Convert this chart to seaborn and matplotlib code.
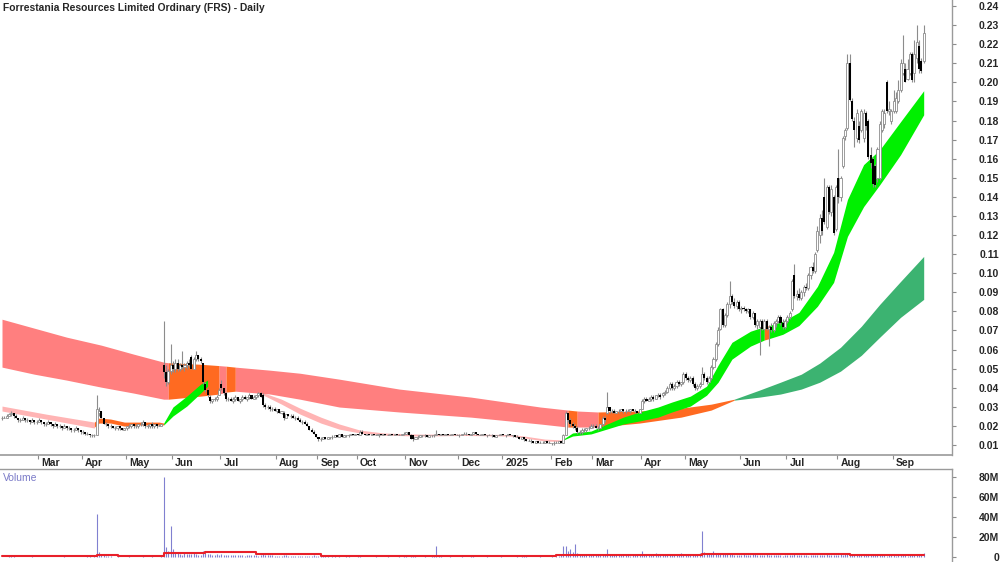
import numpy as np
import pandas as pd
import matplotlib
matplotlib.use('Agg')
import matplotlib.pyplot as plt
import seaborn as sns

title = 'Forrestania Resources Limited Ordinary (FRS) - Daily'

# daily bars, price in thousandths of a dollar (one entry per trading day)
opens = [24, 24, 24, 25, 26, 27, 25, 24, 23, 23, 24, 23, 23, 22, 23, 22, 22, 23, 22, 21,
         21, 22, 21, 20, 21, 20, 20, 19, 20, 19, 19, 18, 18, 19, 18, 17, 17, 16, 16, 15,
         15, 15, 27, 28, 24, 21, 21, 20, 20, 19, 19, 20, 19, 18, 19, 20, 20, 21, 20, 20,
         21, 21, 22, 20, 20, 21, 20, 21, 20, 20, 52, 48, 43, 49, 52, 50, 53, 50, 52, 51,
         52, 53, 56, 50, 55, 57, 55, 53, 42, 39, 35, 33, 34, 34, 36, 42, 40, 37, 34, 34,
         33, 34, 35, 33, 34, 35, 34, 35, 36, 34, 35, 36, 37, 36, 31, 30, 30, 29, 29, 28,
         29, 27, 27, 24, 26, 25, 25, 24, 24, 23, 22, 22, 21, 20, 18, 17, 16, 14, 13, 13,
         14, 13, 14, 14, 14, 15, 14, 16, 14, 15, 15, 15, 16, 15, 16, 15, 17, 16, 15, 16,
         15, 16, 15, 15, 16, 15, 16, 15, 15, 16, 15, 16, 15, 15, 16, 16, 17, 15, 15, 13,
         14, 14, 15, 15, 15, 14, 15, 15, 15, 16, 15, 16, 15, 16, 15, 15, 16, 15, 15, 15,
         16, 16, 16, 15, 16, 17, 16, 15, 15, 16, 15, 15, 15, 15, 14, 15, 15, 16, 15, 15,
         16, 15, 15, 14, 14, 13, 14, 13, 12, 12, 12, 11, 12, 11, 11, 11, 12, 11, 11, 11,
         11, 11, 12, 11, 15, 27, 23, 21, 20, 19, 17, 17, 18, 18, 19, 19, 20, 20, 19, 19,
         21, 24, 27, 30, 28, 28, 27, 28, 28, 29, 28, 28, 28, 29, 28, 28, 27, 29, 33, 34,
         33, 34, 35, 34, 36, 36, 36, 37, 38, 40, 42, 40, 41, 43, 42, 43, 47, 45, 44, 45,
         42, 40, 41, 42, 47, 45, 43, 45, 51, 55, 63, 71, 81, 73, 78, 84, 88, 85, 83, 85,
         81, 82, 81, 80, 81, 77, 79, 73, 72, 75, 71, 75, 71, 72, 70, 74, 75, 77, 74, 72,
         75, 77, 81, 99, 88, 89, 87, 90, 93, 92, 99, 103, 101, 112, 120, 129, 140, 124, 145, 132,
         140, 123, 150, 140, 156, 172, 176, 210, 190, 180, 171, 177, 175, 171, 184, 180, 162, 160, 156, 150,
         150, 175, 178, 200, 185, 180, 185, 185, 190, 196, 205, 207, 202, 205, 215, 205, 213, 219, 211, 211]
highs = [25, 25, 26, 27, 28, 27, 26, 24, 24, 25, 24, 24, 23, 24, 23, 23, 24, 23, 22, 22,
         23, 22, 21, 22, 21, 21, 20, 21, 20, 20, 19, 19, 20, 19, 18, 18, 17, 17, 16, 16,
         16, 36, 30, 28, 24, 22, 21, 21, 20, 20, 20, 20, 19, 19, 20, 21, 21, 21, 21, 21,
         22, 23, 22, 21, 21, 22, 21, 21, 21, 21, 75, 52, 50, 63, 54, 55, 55, 53, 59, 53,
         54, 55, 57, 56, 59, 57, 56, 53, 43, 40, 36, 34, 35, 36, 40, 44, 40, 38, 35, 35,
         35, 36, 35, 34, 36, 36, 35, 37, 36, 36, 36, 38, 38, 37, 32, 31, 31, 30, 30, 29,
         29, 28, 28, 26, 26, 26, 26, 25, 25, 24, 23, 23, 22, 20, 19, 18, 16, 14, 14, 14,
         14, 14, 14, 15, 15, 15, 16, 16, 15, 15, 16, 16, 16, 16, 16, 18, 18, 16, 16, 16,
         16, 16, 16, 16, 16, 16, 16, 16, 16, 16, 16, 16, 16, 16, 17, 17, 17, 16, 15, 14,
         15, 15, 15, 16, 15, 15, 15, 16, 18, 16, 16, 16, 16, 16, 16, 16, 16, 16, 16, 16,
         17, 17, 16, 16, 17, 17, 16, 16, 16, 16, 15, 16, 16, 15, 15, 16, 16, 16, 15, 16,
         16, 15, 15, 15, 14, 14, 14, 13, 13, 13, 12, 12, 12, 12, 12, 12, 12, 12, 11, 12,
         12, 12, 12, 16, 28, 27, 24, 22, 21, 20, 18, 19, 19, 19, 20, 21, 21, 21, 20, 21,
         25, 25, 38, 30, 29, 29, 28, 29, 29, 29, 29, 29, 29, 29, 29, 28, 29, 34, 35, 35,
         35, 36, 36, 36, 37, 37, 38, 39, 41, 43, 43, 42, 44, 44, 43, 48, 48, 46, 46, 46,
         43, 42, 43, 51, 48, 46, 46, 52, 56, 64, 72, 82, 82, 79, 85, 96, 89, 87, 86, 86,
         83, 83, 82, 82, 81, 80, 79, 76, 76, 76, 76, 76, 73, 74, 75, 76, 78, 78, 76, 76,
         78, 80, 97, 105, 91, 92, 91, 94, 95, 100, 104, 106, 111, 125, 131, 133, 150, 146, 146, 146,
         141, 146, 165, 151, 172, 176, 215, 215, 192, 182, 186, 180, 186, 186, 185, 181, 166, 161, 157, 166,
         180, 186, 186, 201, 190, 186, 196, 195, 201, 212, 225, 210, 212, 216, 216, 222, 230, 222, 213, 230]
lows = [23, 24, 24, 25, 25, 24, 24, 22, 22, 23, 22, 22, 21, 22, 21, 21, 22, 21, 20, 20,
        21, 20, 19, 20, 19, 19, 18, 19, 18, 18, 17, 17, 18, 17, 16, 16, 15, 15, 14, 14,
        14, 15, 25, 24, 21, 20, 19, 19, 19, 18, 18, 18, 18, 18, 18, 19, 19, 19, 19, 19,
        20, 20, 19, 19, 19, 19, 19, 19, 20, 20, 45, 41, 42, 47, 48, 48, 49, 49, 50, 49,
        50, 51, 50, 50, 54, 54, 53, 42, 38, 35, 32, 32, 33, 33, 36, 39, 36, 33, 33, 33,
        32, 33, 33, 32, 33, 34, 33, 34, 34, 34, 34, 35, 35, 30, 29, 29, 28, 28, 28, 27,
        27, 26, 23, 24, 25, 24, 24, 23, 23, 22, 21, 21, 20, 18, 17, 16, 14, 12, 12, 13,
        13, 13, 13, 13, 14, 14, 14, 14, 14, 14, 14, 15, 15, 15, 15, 15, 16, 15, 15, 15,
        15, 15, 15, 14, 15, 15, 15, 15, 15, 15, 15, 15, 15, 15, 15, 16, 15, 13, 12, 13,
        13, 14, 14, 14, 14, 14, 14, 14, 15, 15, 15, 15, 15, 15, 15, 15, 15, 15, 14, 15,
        16, 15, 15, 15, 16, 15, 15, 15, 15, 15, 14, 15, 14, 14, 14, 15, 15, 15, 14, 15,
        15, 14, 14, 14, 13, 13, 12, 12, 12, 11, 11, 11, 11, 11, 11, 11, 11, 11, 10, 10,
        11, 11, 11, 11, 15, 22, 20, 19, 18, 16, 16, 16, 17, 17, 18, 19, 19, 19, 18, 19,
        20, 22, 26, 27, 27, 27, 27, 27, 28, 27, 27, 28, 27, 28, 27, 27, 27, 29, 32, 33,
        33, 33, 33, 34, 35, 34, 35, 36, 37, 39, 39, 39, 40, 41, 41, 42, 44, 43, 43, 41,
        39, 39, 40, 42, 44, 42, 43, 44, 50, 54, 62, 70, 72, 72, 77, 82, 84, 82, 81, 80,
        79, 80, 79, 79, 76, 76, 72, 71, 57, 70, 70, 70, 62, 69, 69, 72, 74, 73, 71, 71,
        74, 76, 80, 87, 86, 86, 86, 88, 91, 91, 97, 100, 100, 111, 116, 120, 126, 123, 131, 130,
        120, 122, 137, 138, 155, 170, 175, 190, 180, 166, 169, 168, 174, 169, 175, 160, 155, 145, 145, 148,
        149, 174, 176, 184, 183, 178, 184, 184, 189, 195, 204, 200, 201, 204, 200, 200, 210, 205, 205, 210]
closes = [24, 24, 25, 26, 27, 25, 24, 23, 23, 24, 23, 23, 22, 23, 22, 22, 23, 22, 21, 21,
          22, 21, 20, 21, 20, 20, 19, 20, 19, 19, 18, 18, 19, 18, 17, 17, 16, 16, 15, 15,
          15, 29, 28, 24, 21, 21, 20, 20, 19, 19, 20, 19, 18, 19, 20, 20, 21, 20, 20, 21,
          21, 22, 20, 20, 21, 20, 21, 20, 20, 21, 48, 43, 49, 52, 50, 53, 50, 52, 51, 52,
          53, 52, 50, 55, 57, 55, 54, 43, 39, 36, 33, 34, 34, 35, 39, 40, 37, 34, 34, 33,
          34, 35, 33, 34, 35, 34, 35, 36, 34, 35, 36, 37, 35, 31, 30, 30, 29, 29, 28, 29,
          27, 28, 24, 26, 25, 25, 24, 24, 23, 22, 22, 21, 20, 18, 17, 16, 14, 13, 13, 14,
          13, 14, 14, 14, 15, 14, 16, 14, 15, 15, 15, 16, 15, 16, 15, 17, 16, 15, 16, 15,
          16, 15, 15, 16, 15, 16, 15, 15, 16, 15, 16, 15, 15, 16, 16, 17, 15, 13, 13, 14,
          14, 15, 15, 15, 14, 15, 15, 15, 16, 15, 16, 15, 16, 15, 15, 16, 15, 15, 15, 16,
          16, 16, 15, 16, 17, 16, 15, 15, 16, 15, 15, 15, 15, 14, 15, 15, 16, 15, 15, 16,
          15, 15, 14, 14, 13, 14, 13, 12, 12, 12, 11, 12, 11, 11, 11, 12, 11, 11, 11, 11,
          11, 12, 11, 15, 27, 23, 21, 20, 19, 17, 17, 18, 18, 19, 19, 20, 20, 19, 19, 21,
          24, 23, 30, 28, 28, 27, 28, 28, 29, 28, 28, 28, 29, 28, 28, 27, 29, 33, 34, 33,
          34, 35, 34, 36, 36, 35, 37, 38, 40, 42, 40, 41, 43, 42, 43, 47, 45, 44, 45, 42,
          40, 41, 42, 47, 45, 43, 45, 51, 55, 63, 70, 81, 73, 78, 84, 88, 85, 83, 85, 81,
          82, 81, 80, 81, 77, 79, 73, 75, 75, 71, 75, 71, 72, 70, 74, 75, 77, 74, 72, 75,
          77, 79, 96, 88, 89, 87, 90, 93, 92, 99, 103, 101, 110, 122, 129, 122, 127, 145, 132, 144,
          121, 145, 140, 150, 171, 175, 210, 191, 181, 175, 184, 170, 185, 184, 177, 161, 158, 147, 146, 165,
          178, 185, 184, 185, 186, 185, 190, 192, 196, 210, 210, 200, 207, 215, 201, 215, 221, 207, 206, 226]

# daily volume, in units of 0.1M shares
volume = [3, 5, 2, 8, 12, 6, 4, 3, 2, 5, 3, 2, 4, 6, 3, 2, 5, 2, 3, 4,
          2, 3, 5, 2, 4, 3, 2, 6, 3, 2, 4, 3, 2, 5, 3, 4, 2, 6, 8, 5,
          12, 430, 50, 30, 20, 12, 8, 6, 5, 4, 6, 3, 5, 4, 3, 6, 4, 3, 5, 2,
          4, 8, 5, 3, 4, 6, 3, 5, 4, 6, 800, 100, 60, 310, 80, 45, 40, 30, 25, 50,
          35, 30, 28, 40, 30, 25, 22, 60, 45, 35, 30, 25, 20, 28, 22, 30, 25, 20, 18, 22,
          20, 18, 25, 20, 18, 15, 22, 18, 20, 25, 18, 15, 20, 35, 25, 20, 18, 22, 15, 12,
          15, 12, 25, 18, 12, 10, 15, 12, 10, 14, 12, 10, 15, 12, 10, 18, 12, 8, 10, 6,
          8, 6, 5, 8, 6, 4, 7, 5, 4, 6, 8, 5, 4, 3, 6, 10, 5, 4, 3, 5,
          4, 3, 6, 4, 5, 3, 4, 6, 3, 4, 5, 3, 6, 4, 8, 10, 5, 12, 14, 6,
          4, 5, 3, 6, 4, 5, 8, 12, 110, 10, 6, 4, 5, 3, 6, 4, 5, 3, 4, 6,
          5, 4, 3, 6, 8, 5, 4, 3, 5, 4, 6, 3, 4, 5, 3, 4, 6, 5, 3, 4,
          5, 3, 4, 6, 4, 8, 10, 6, 5, 4, 3, 5, 4, 6, 3, 5, 4, 3, 6, 5,
          8, 15, 20, 110, 115, 60, 80, 50, 130, 40, 30, 25, 20, 30, 25, 20, 35, 30, 25, 20,
          25, 30, 80, 30, 25, 20, 18, 22, 20, 25, 18, 20, 15, 22, 20, 18, 25, 60, 30, 25,
          22, 20, 18, 40, 25, 20, 22, 30, 25, 20, 35, 30, 25, 28, 40, 30, 25, 22, 20, 30,
          25, 30, 40, 260, 50, 40, 30, 35, 60, 45, 40, 35, 30, 28, 32, 30, 28, 25, 22, 20,
          25, 30, 22, 20, 25, 35, 28, 20, 18, 22, 25, 30, 20, 18, 22, 25, 20, 18, 15, 20,
          22, 18, 25, 30, 20, 18, 22, 25, 20, 15, 18, 22, 25, 20, 18, 22, 25, 28, 20, 22,
          25, 20, 22, 30, 25, 35, 30, 25, 20, 22, 18, 20, 25, 22, 20, 18, 22, 25, 20, 18,
          20, 18, 22, 15, 18, 20, 22, 15, 18, 20, 22, 18, 15, 20, 18, 22, 25, 20, 18, 40]

# volume average (red step line), millions
vol_ma_i = [0, 41, 50, 70, 88, 110, 138, 149, 240, 257, 303, 314, 367, 386, 399]
vol_ma_m = [1.0, 2.5, 1.5, 4.0, 5.5, 3.5, 1.5, 0.8, 2.0, 2.5, 3.0, 3.5, 2.5, 2.0, 2.0]

# long-term average ribbon (r = falling, o = mixed, s = rising)
long_i = [0, 14, 28, 43, 57, 70, 72, 86, 94, 97, 101, 116, 129, 146, 172, 203, 233, 245, 249, 258,
          276, 294, 307, 317, 328, 337, 346, 354, 363, 372, 380, 389, 399]
long_hi = [0.0759, 0.0712, 0.0665, 0.0623, 0.0576, 0.0534, 0.0531, 0.0523, 0.0516, 0.0513, 0.0508,
           0.0492, 0.0476, 0.0445, 0.0393, 0.0351, 0.0299, 0.0283, 0.0278, 0.0273, 0.0278, 0.0293,
           0.0314, 0.0340, 0.0388, 0.0429, 0.0471, 0.0529, 0.0612, 0.0722, 0.0837, 0.0957, 0.1088]
long_lo = [0.0508, 0.0471, 0.0440, 0.0403, 0.0372, 0.0340, 0.0340, 0.0356, 0.0367, 0.0377, 0.0382,
           0.0367, 0.0340, 0.0299, 0.0273, 0.0246, 0.0210, 0.0194, 0.0194, 0.0194, 0.0215, 0.0246,
           0.0283, 0.0335, 0.0351, 0.0367, 0.0393, 0.0429, 0.0487, 0.0570, 0.0665, 0.0769, 0.0863]
long_col = 'rrrrrroororrrrrrrorooooGGGGGGGGG'.replace('G', 's')

# short-term ribbon, split in the visible pieces
pink1_i = [0, 19, 40]
pink1_hi = [0.0304, 0.0262, 0.0220]
pink1_lo = [0.0278, 0.0236, 0.0189]

orng1_i = [40, 42, 47, 53, 60, 68, 70]
orng1_hi = [0.0220, 0.0241, 0.0236, 0.0220, 0.0220, 0.0220, 0.0215]
orng1_lo = [0.0194, 0.0215, 0.0215, 0.0199, 0.0205, 0.0205, 0.0205]

grn1_i = [70, 74, 80, 86, 89]
grn1_hi = [0.0215, 0.0299, 0.0356, 0.0419, 0.0440]
grn1_lo = [0.0205, 0.0252, 0.0304, 0.0372, 0.0408]

pink2_i = [112, 121, 129, 138, 146, 155, 165, 180, 200, 220, 226, 235, 243]
pink2_hi = [0.0378, 0.0340, 0.0293, 0.0246, 0.0210, 0.0178, 0.0163, 0.0157, 0.0157, 0.0155, 0.0147,
            0.0131, 0.0126]
pink2_lo = [0.0368, 0.0314, 0.0262, 0.0215, 0.0183, 0.0163, 0.0152, 0.0147, 0.0150, 0.0147, 0.0137,
            0.0121, 0.0118]

grn2_i = [243, 247, 255, 262, 269, 276, 284, 290, 298, 305, 310, 316, 324, 330, 332, 338, 345, 353,
          360, 366, 373, 380, 389, 399]
grn2_hi = [0.0131, 0.0163, 0.0173, 0.0210, 0.0246, 0.0273, 0.0299, 0.0325, 0.0356, 0.0408, 0.0518,
           0.0638, 0.0696, 0.0720, 0.0725, 0.0748, 0.0795, 0.0931, 0.1109, 0.1386, 0.1569, 0.1647,
           0.1794, 0.1956]
grn2_lo = [0.0126, 0.0147, 0.0158, 0.0184, 0.0210, 0.0226, 0.0246, 0.0273, 0.0304, 0.0361, 0.0429,
           0.0550, 0.0618, 0.0650, 0.0657, 0.0680, 0.0726, 0.0827, 0.0952, 0.1193, 0.1349, 0.1464,
           0.1621, 0.1830]
grn2_col = 'G' * 13 + 'o' + 'G' * 9

month_pos = [16, 35, 54, 74, 95, 119, 137, 154, 175, 198, 217, 238, 256, 277, 296, 320, 340, 362, 386]
month_lab = ['Mar', 'Apr', 'May', 'Jun', 'Jul', 'Aug', 'Sep', 'Oct', 'Nov', 'Dec', '2025',
             'Feb', 'Mar', 'Apr', 'May', 'Jun', 'Jul', 'Aug', 'Sep']

band_colors = {'r': '#FF7F7F', 'o': '#FF6A21', 's': '#3CB371', 'G': '#00F000', 'p': '#FFB4B4'}

assert len(opens) == len(highs) == len(lows) == len(closes) == len(volume) == 400

df = pd.DataFrame({'o': opens, 'h': highs, 'l': lows, 'c': closes}) / 1000
df['i'] = np.arange(len(df))
df['vol'] = np.array(volume) / 10


def draw_band(ax, idx, hi, lo, cols, z):
    if len(cols) == 1:
        cols = cols * (len(idx) - 1)
    start = 0
    for k in range(1, len(cols) + 1):
        if k == len(cols) or cols[k] != cols[start]:
            ax.fill_between(idx[start:k + 1], hi[start:k + 1], lo[start:k + 1],
                            color=band_colors[cols[start]], lw=0, zorder=z)
            start = k


sns.set_theme(style='white')
plt.rcParams['font.family'] = ['Liberation Sans', 'DejaVu Sans']

W, H = 1000, 562
fig = plt.figure(figsize=(10, 5.62), dpi=100)
ax = fig.add_axes([0, 1 - 455 / H, 952 / W, 455 / H])
axv = fig.add_axes([0, 0, 952 / W, 93 / H])

# ribbons
draw_band(ax, pink1_i, pink1_hi, pink1_lo, 'p', 1.5)
draw_band(ax, pink2_i, pink2_hi, pink2_lo, 'p', 1.5)
draw_band(ax, long_i, long_hi, long_lo, long_col, 2)
draw_band(ax, orng1_i, orng1_hi, orng1_lo, 'o', 3)
draw_band(ax, grn1_i, grn1_hi, grn1_lo, 'G', 3)
draw_band(ax, grn2_i, grn2_hi, grn2_lo, grn2_col, 3)

# candles
up = df.c >= df.o
ax.vlines(df.i, df.l, df.h, color='#8c8c8c', lw=0.8, zorder=4)
ax.bar(df.i[up], (df.c - df.o)[up], bottom=df.o[up], width=0.9,
       facecolor='white', edgecolor='#8c8c8c', lw=0.6, zorder=5)
ax.bar(df.i[~up], (df.o - df.c)[~up], bottom=df.c[~up], width=0.9,
       color='black', lw=0, zorder=5)

x_left = (0 - 2) / 2.31
x_right = (952 - 2) / 2.31
ax.set_xlim(x_left, x_right)
ax.set_ylim(0.01 - 10 / 1909, 0.24 + 6 / 1909)

ax.yaxis.tick_right()
yt = np.arange(1, 25) / 100
ax.set_yticks(yt)
ax.set_yticklabels([f'{v:.2f}' for v in yt])
ax.tick_params(axis='y', right=True, left=False, length=3, width=0.8, color='#8c8c8c',
               pad=31, labelsize=7.5)
for t in ax.get_yticklabels():
    t.set_ha('right')
    t.set_fontweight('bold')

ax.set_xticks([p - 0.5 for p in month_pos])
ax.set_xticklabels([])
ax.tick_params(axis='x', bottom=True, length=3, width=0.8, color='#8c8c8c', direction='out')
for p, lab in zip(month_pos, month_lab):
    ax.text(p - 0.5 + 1.4, -8 / 455, lab, transform=ax.get_xaxis_transform(),
            ha='left', va='center', fontsize=7.5, fontweight='bold')

for s in ['top', 'left']:
    ax.spines[s].set_visible(False)
ax.spines['bottom'].set_color('#9a9a9a')
ax.spines['bottom'].set_linewidth(1.2)
ax.spines['right'].set_color('#9a9a9a')
ax.spines['right'].set_linewidth(1.0)

# volume panel
axv.vlines(df.i, 0, df.vol, color='#8080D0', lw=0.8)
sns.lineplot(x=vol_ma_i, y=vol_ma_m, ax=axv, color='#E8202A', lw=1.5, drawstyle='steps-post')
axv.set_xlim(x_left, x_right)
axv.set_ylim(-5, 88)
axv.yaxis.tick_right()
axv.set_yticks([0, 20, 40, 60, 80])
axv.set_yticklabels(['0', '20M', '40M', '60M', '80M'])
axv.tick_params(axis='y', right=True, left=False, length=3, width=0.8, color='#8c8c8c',
                pad=31, labelsize=7.5)
for t in axv.get_yticklabels():
    t.set_ha('right')
    t.set_fontweight('bold')
axv.set_xticks([])
for s in ['bottom', 'left']:
    axv.spines[s].set_visible(False)
for s in ['top', 'right']:
    axv.spines[s].set_color('#9a9a9a')
    axv.spines[s].set_linewidth(1.0)
axv.text(3 / 952, 1 - 9 / 93, 'Volume', transform=axv.transAxes, ha='left', va='center',
         fontsize=7.5, color='#7B7BC8')

fig.text(3 / W, 1 - 8 / H, title, ha='left', va='center', fontsize=7.4, fontweight='bold')

fig.savefig('out.png', dpi=100)
